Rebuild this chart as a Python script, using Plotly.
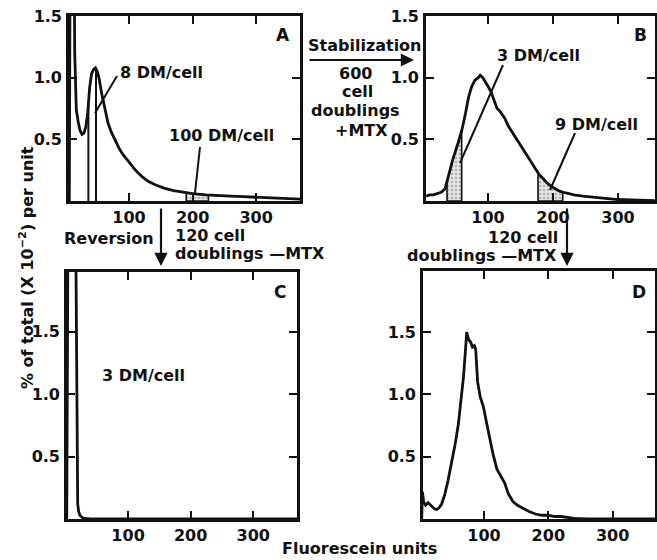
import numpy as np
import plotly.graph_objects as go

W, H = 657, 560

# ---------------- data ----------------
a_x = [6, 7.5, 9, 11, 13, 14.5, 15.5, 17, 20, 23, 26, 29, 32, 35, 38, 41, 44, 47, 50, 53, 57, 62, 67, 72,
       78, 84, 90, 96, 102, 110, 120, 130, 142, 155, 170, 185, 200, 220, 240, 260, 280, 300, 320, 340, 369]
a_y = [0.0, 2.5, 3.0, 3.0, 2.5, 1.2, 0.96, 0.74, 0.64, 0.57, 0.54, 0.55, 0.60, 0.72, 0.92, 1.03, 1.065, 1.08,
       1.05, 0.99, 0.87, 0.74, 0.63, 0.56, 0.49, 0.43, 0.38, 0.34, 0.30, 0.25, 0.20, 0.16, 0.13, 0.105, 0.085,
       0.07, 0.06, 0.05, 0.043, 0.04, 0.035, 0.03, 0.025, 0.02, 0.015]

b_x = [5, 10, 16, 22, 28, 34, 39, 46, 54, 60, 65, 70, 75, 80, 85, 88, 92, 96, 100, 105, 110, 114, 118, 122,
       126, 131, 136, 142, 148, 154, 160, 166, 172, 178, 185, 192, 200, 210, 220, 232, 246, 262, 280, 300, 320,
       340, 357]
b_y = [0.04, 0.05, 0.05, 0.06, 0.07, 0.10, 0.20, 0.34, 0.47, 0.58, 0.70, 0.84, 0.93, 0.98, 1.00, 1.02, 1.00,
       0.97, 0.93, 0.88, 0.80, 0.75, 0.73, 0.70, 0.67, 0.61, 0.57, 0.52, 0.47, 0.42, 0.37, 0.32, 0.27, 0.22,
       0.18, 0.14, 0.11, 0.08, 0.065, 0.05, 0.04, 0.03, 0.02, 0.012, 0.008, 0.005, 0.003]

c_x = [2, 4, 6, 10, 14, 16.8, 17.5, 18.2, 18.8, 19.5, 21, 23, 26, 30, 40, 370]
c_y = [0.0, 2.4, 2.6, 2.6, 2.4, 2.0, 1.5, 1.0, 0.5, 0.12, 0.06, 0.03, 0.015, 0.005, 0.0, 0.0]

d_x = [3, 4, 6, 9, 13, 18, 22, 26, 30, 34, 39, 44, 50, 55, 60, 64, 68, 71, 73, 76, 79, 82, 85, 87, 90, 94, 99,
       104, 109, 114, 120, 126, 132, 138, 145, 152, 160, 170, 180, 190, 200, 210, 220, 230, 240, 260, 300, 366]
d_y = [0.0, 0.22, 0.14, 0.11, 0.13, 0.10, 0.085, 0.075, 0.09, 0.12, 0.20, 0.31, 0.46, 0.60, 0.76, 0.95, 1.14,
       1.35, 1.50, 1.44, 1.42, 1.38, 1.39, 1.36, 1.10, 0.98, 0.90, 0.77, 0.64, 0.52, 0.40, 0.34, 0.29, 0.20,
       0.14, 0.11, 0.085, 0.06, 0.04, 0.03, 0.03, 0.02, 0.02, 0.01, 0.005, 0.0, 0.0, 0.0]

# sorting gates (fluorescein units)
a_gate_8dm = [36, 48]
a_gate_100dm = [190, 225]
b_gate_3dm = [37, 59.5]
b_gate_9dm = [177, 215]

x_ticks = [100, 200, 300]
y_ticks = [0.5, 1.0, 1.5]
y_tick_text = ["0.5", "1.0", "1.5"]

# ---------------- helpers ----------------
def px(x):
    return x / W

def py(y):
    return 1 - y / H

FONT = "DejaVu Sans"
BLACK = "#111111"

fig = go.Figure()

def curve(xs, ys, xa, ya):
    fig.add_trace(go.Scatter(x=xs, y=ys, mode="lines", xaxis=xa, yaxis=ya,
                             line=dict(color=BLACK, width=2.8), showlegend=False, hoverinfo="skip"))

def gate_fill(xs, ys, g, xa, ya):
    inner = [v for v in xs if g[0] < v < g[1]]
    gx = [g[0]] + inner + [g[1]]
    gy = list(np.interp(gx, xs, ys))
    polyx = gx + [g[1], g[0], g[0]]
    polyy = gy + [0, 0, gy[0]]
    fig.add_trace(go.Scatter(x=polyx, y=polyy, mode="lines", fill="toself", xaxis=xa, yaxis=ya,
                             fillcolor="#d9d9d9",
                             fillpattern=dict(shape=".", fgcolor="#777777", bgcolor="#e6e6e6", size=4, solidity=0.35),
                             line=dict(color=BLACK, width=1.6), showlegend=False, hoverinfo="skip"))

def gate_lines(xs, ys, g, xa, ya):
    lx, ly = [], []
    for v in g:
        lx += [v, v, None]
        ly += [0, float(np.interp(v, xs, ys)), None]
    fig.add_trace(go.Scatter(x=lx, y=ly, mode="lines", xaxis=xa, yaxis=ya,
                             line=dict(color=BLACK, width=2), showlegend=False, hoverinfo="skip"))

# Panel A
gate_fill(a_x, a_y, a_gate_100dm, "x", "y")
gate_lines(a_x, a_y, a_gate_8dm, "x", "y")
curve(a_x, a_y, "x", "y")
# Panel B
gate_fill(b_x, b_y, b_gate_3dm, "x2", "y2")
gate_fill(b_x, b_y, b_gate_9dm, "x2", "y2")
curve(b_x, b_y, "x2", "y2")
# Panel C
curve(c_x, c_y, "x3", "y3")
# Panel D
curve(d_x, d_y, "x4", "y4")

TICKFONT = dict(size=16, color=BLACK, family=FONT, weight="bold")

def xax(dom, rng, anchor):
    return dict(domain=[px(dom[0]), px(dom[1])], range=rng, anchor=anchor, showgrid=False, zeroline=False,
                automargin=False, showline=True, linecolor=BLACK, linewidth=2.6, mirror="ticks",
                ticks="inside", ticklen=8, tickwidth=2.4, tickcolor=BLACK, tickvals=x_ticks,
                ticktext=[str(v) for v in x_ticks], tickfont=TICKFONT)

def yax(dom, rng, anchor):
    return dict(domain=[py(dom[1]), py(dom[0])], range=rng, anchor=anchor, showgrid=False, zeroline=False,
                automargin=False, showline=True, linecolor=BLACK, linewidth=2.6, mirror="ticks",
                ticks="inside", ticklen=8, tickwidth=2.4, tickcolor=BLACK, tickvals=y_ticks,
                ticktext=y_tick_text, tickfont=TICKFONT, ticklabelstandoff=1)

fig.update_layout(
    width=W, height=H, margin=dict(l=0, r=0, t=0, b=0, pad=0),
    paper_bgcolor="white", plot_bgcolor="white",
    font=dict(family=FONT, size=16, color=BLACK, weight="bold"),
    xaxis=xax((69, 300), [5.5, 369], "y"), yaxis=yax((16, 201), [0, 1.5], "x"),
    xaxis2=xax((426, 655), [4.6, 357], "y2"), yaxis2=yax((16, 201), [0, 1.5], "x2"),
    xaxis3=xax((67, 297), [2.4, 370], "y3"), yaxis3=yax((272, 519), [0, 1.98], "x3"),
    xaxis4=xax((423, 655), [5, 366], "y4"), yaxis4=yax((271, 519), [0, 1.99], "x4"),
)

ann = []
def text(t, x, y, xanchor="center", size=16, angle=0):
    ann.append(dict(text=t, x=px(x), y=py(y), xref="paper", yref="paper", showarrow=False,
                    xanchor=xanchor, yanchor="middle", textangle=angle,
                    font=dict(size=size, color=BLACK, family=FONT, weight="bold")))

def arrow(x0, y0, x1, y1):
    ann.append(dict(text="", x=px(x1), y=py(y1), ax=x0 - x1, ay=y0 - y1, xref="paper", yref="paper",
                    axref="pixel", ayref="pixel", showarrow=True, arrowhead=2, arrowsize=1.2,
                    arrowwidth=2.2, arrowcolor=BLACK))

text("A", 283, 35, size=17)
text("B", 640, 35, size=17)
text("C", 280, 292, size=17)
text("D", 639, 292, size=17)
text("8 DM/cell", 118, 72, "left")
text("100 DM/cell", 167, 135, "left")
text("3 DM/cell", 495, 56, "left")
text("9 DM/cell", 553, 124, "left")
text("3 DM/cell", 100, 376, "left")
text("Stabilization", 365, 45)
text("600", 355, 74)
text("cell", 357, 92)
text("doublings", 355, 111)
text("+MTX", 361, 130)
text("Reversion", 109, 238)
text("120 cell", 173, 235, "left")
text("doublings \u2014MTX", 173, 254, "left")
text("120 cell", 523, 237)
text("doublings \u2014MTX", 482, 256)
text("% of total (X 10<sup>\u22122</sup>) per unit", 26, 268, angle=-90)
text("Fluorescein units", 359, 548)

arrow(308, 60, 414, 60)
arrow(161, 207, 161, 266)
arrow(567, 207, 567, 266)

shapes = []
def seg(x0, y0, x1, y1):
    shapes.append(dict(type="line", xref="paper", yref="paper", x0=px(x0), y0=py(y0), x1=px(x1), y1=py(y1),
                       line=dict(color=BLACK, width=2)))

seg(117, 76, 95, 113)
seg(200, 147, 195, 193)
seg(503, 65, 460, 163)
seg(575, 133, 550, 190)

fig.update_layout(annotations=ann, shapes=shapes)

fig.write_html("out.html", config={"displayModeBar": False},
               post_script="document.body.style.margin='0';document.body.style.overflow='hidden';")
